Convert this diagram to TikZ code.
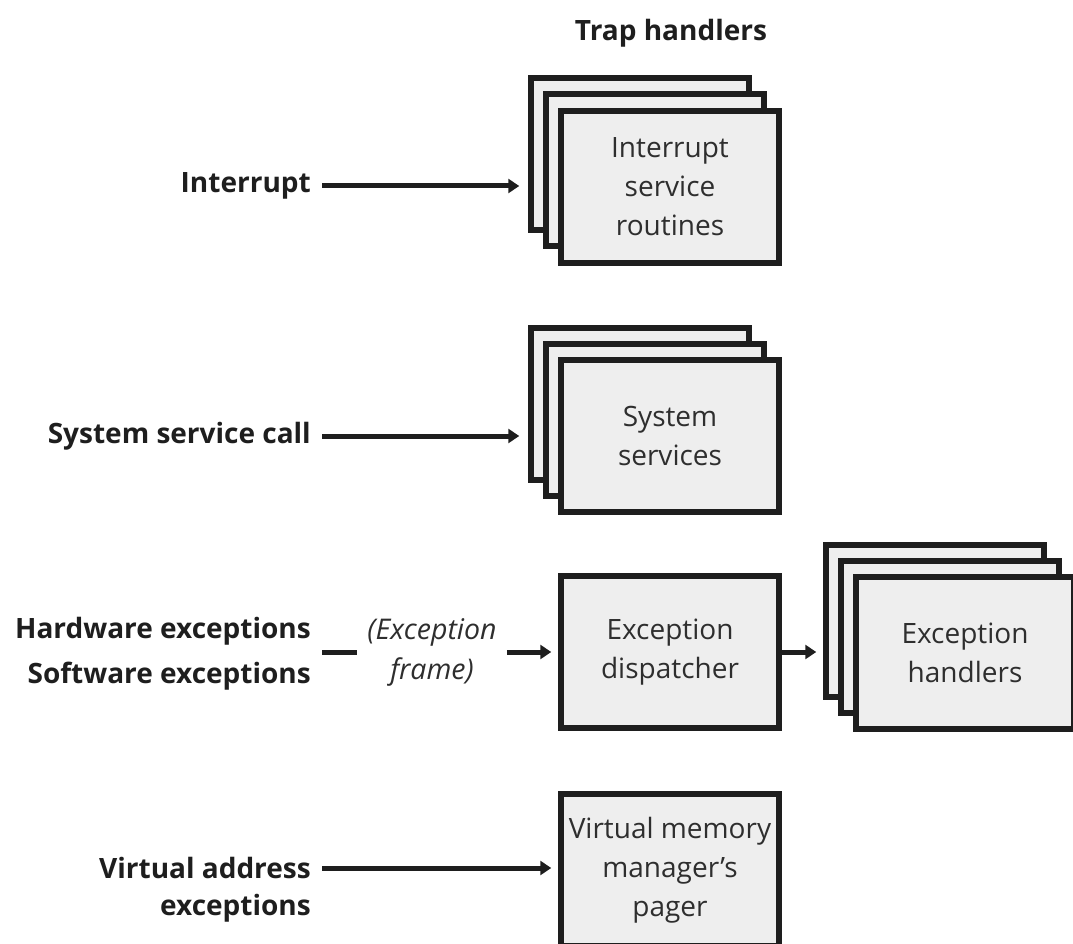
\documentclass[tikz,border=0pt]{standalone}
\usepackage{fontspec}
\setmainfont{Open Sans}
\usetikzlibrary{arrows.meta}
\definecolor{boxfill}{HTML}{EEEEEE}
\definecolor{ink}{HTML}{1E1E1E}
\definecolor{txt}{HTML}{2E2E2E}
\newcommand\cardfont{\fontsize{28}{39}\selectfont}
\newcommand\lblfont{\fontsize{28}{40}\selectfont\bfseries}
\begin{document}
\begin{tikzpicture}[x=1pt,y=-1pt,
  card/.style={draw=ink, fill=boxfill, line width=5.5pt, minimum width=218pt, minimum height=152pt, inner sep=0pt, align=center, text=txt, font=\cardfont},
  lbl/.style={anchor=east, inner sep=0pt, align=right, text=ink, font=\lblfont},
  frm/.style={inner sep=0pt, align=center, text=txt, font=\fontsize{28.5}{40}\selectfont\itshape},
  arr/.style={draw=ink, line width=5pt, -{Triangle[length=11pt,width=14pt]}},
  bar/.style={draw=ink, line width=5pt}]
\useasboundingbox (0,0) rectangle (1073,944);

% Trap handlers column
\node[lbl, anchor=center] (trap) at (671,33) {Trap handlers};

\node[card] (isr3) at (640,154) {};
\node[card] (isr2) at (655,170) {};
\node[card] (isr1) at (670,187) {Interrupt\\service\\routines};

\node[card] (ss3) at (640,404) {};
\node[card] (ss2) at (655,420) {};
\node[card] (ss1) at (670,436) {System\\services};

\node[card] (disp) at (670,652) {Exception\\dispatcher};
\node[card] (eh3) at (935,621) {};
\node[card] (eh2) at (950,637) {};
\node[card] (eh1) at (965,653) {Exception\\handlers};

\node[card] (vmm) at (670,870) {Virtual memory\\manager’s\\pager};

% Labels
\node[lbl] (intl) at (311,186) {Interrupt};
\node[lbl] (ssc) at (311,436) {System service call};
\node[lbl, font=\fontsize{28}{45}\selectfont\bfseries] (hwsw) at (311,654) {Hardware exceptions\\Software exceptions};
\node[frm] (frame) at (432,652) {(Exception\\frame)};
\node[lbl] (va) at (311,868) {Virtual address};
\node[lbl] (vaex) at (311,908) {exceptions};

% Connectors
\draw[arr, shorten <=11pt, shorten >=9pt] (intl.east) -- (intl.east -| isr3.west);
\draw[arr, shorten <=11pt, shorten >=9pt] (ssc.east) -- (ssc.east -| ss3.west);
\draw[bar, shorten <=11pt, shorten >=10pt] (hwsw.east |- frame.west) -- (frame.west);
\draw[arr, shorten <=10pt, shorten >=7pt] (frame.east) -- (disp.west);
\draw[arr, shorten >=7pt] (disp.east) -- (disp.east -| eh3.west);
\draw[arr, shorten <=11pt, shorten >=7pt] (va.east) -- (va.east -| vmm.west);
\end{tikzpicture}
\end{document}
